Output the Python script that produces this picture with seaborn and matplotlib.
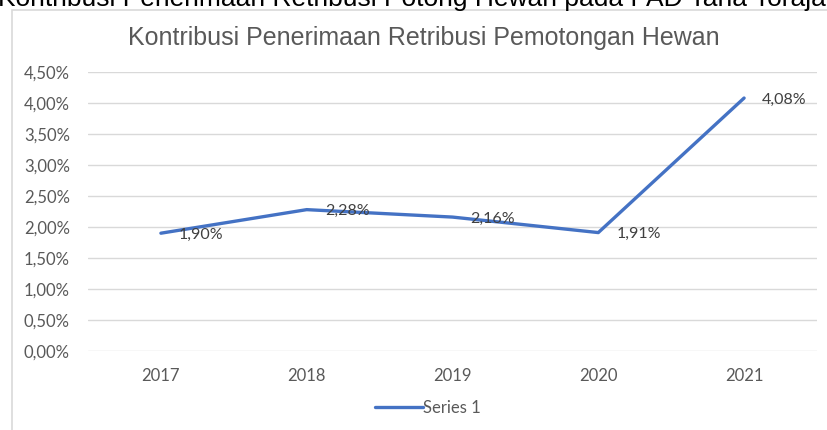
import matplotlib
matplotlib.use("Agg")
import seaborn as sns
import matplotlib.pyplot as plt
from matplotlib.patches import Rectangle

# data
years = ["2017", "2018", "2019", "2020", "2021"]
kontribusi = [1.90, 2.28, 2.16, 1.91, 4.08]   # in percent
series_name = "Series 1"

sns.set_theme(style="white")
plt.rcParams["font.family"] = ["Lato", "DejaVu Sans"]

fig = plt.figure(figsize=(8.27, 4.30), dpi=100)
ax = fig.add_axes([88 / 827, 79 / 430, (817 - 88) / 827, (351 - 72) / 430])

# chart frame (left and top border, the rest is cut off)
fig.add_artist(Rectangle((12 / 827, -0.2), 1.2, 1.2 - 10 / 430,
                         transform=fig.transFigure, fill=False,
                         edgecolor="#d9d9d9", linewidth=1.2, zorder=0))

# cropped caption above the chart (cut off at the top like the source image)
fig.text(-0.002, 1 - 6 / 430, "Kontribusi Penerimaan Retribusi Potong Hewan pada PAD Tana Toraja",
         family=["Liberation Sans", "DejaVu Sans"], fontsize=19, color="black",
         ha="left", va="baseline")

sns.lineplot(x=years, y=kontribusi, ax=ax, color="#4472C4", linewidth=2.4,
             label=series_name, legend=False, sort=False)

for i, v in enumerate(kontribusi):
    ax.annotate(f"{v:.2f}%".replace(".", ","), (i, v), xytext=(13, -1),
                textcoords="offset points", ha="left", va="center",
                fontsize=11.5, color="#404040")

ax.set_xlim(-0.5, len(years) - 0.5)
ax.set_ylim(0, 4.5)
ax.set_yticks([i * 0.5 for i in range(10)])
ax.set_yticklabels([f"{i * 0.5:.2f}%".replace(".", ",") for i in range(10)])
ax.grid(axis="y", color="#d9d9d9", linewidth=1)
ax.grid(axis="x", visible=False)
for s in ax.spines.values():
    s.set_visible(False)
ax.tick_params(axis="both", length=0, labelsize=12, colors="#595959")
ax.tick_params(axis="x", pad=12)
ax.tick_params(axis="y", pad=13)
ax.set_xlabel("")
ax.set_ylabel("")

fig.text(424 / 827, 1 - 38 / 430, "Kontribusi Penerimaan Retribusi Pemotongan Hewan",
         family=["Liberation Sans", "DejaVu Sans"], fontsize=18, color="#595959",
         ha="center", va="center")

fig.legend(handles=ax.get_lines()[:1], labels=[series_name], loc="center",
           bbox_to_anchor=(428 / 827, 1 - 408 / 430), frameon=False,
           handlelength=2.9, handletextpad=0.0, fontsize=12,
           labelcolor="#595959")

fig.savefig("out.png", dpi=100)
